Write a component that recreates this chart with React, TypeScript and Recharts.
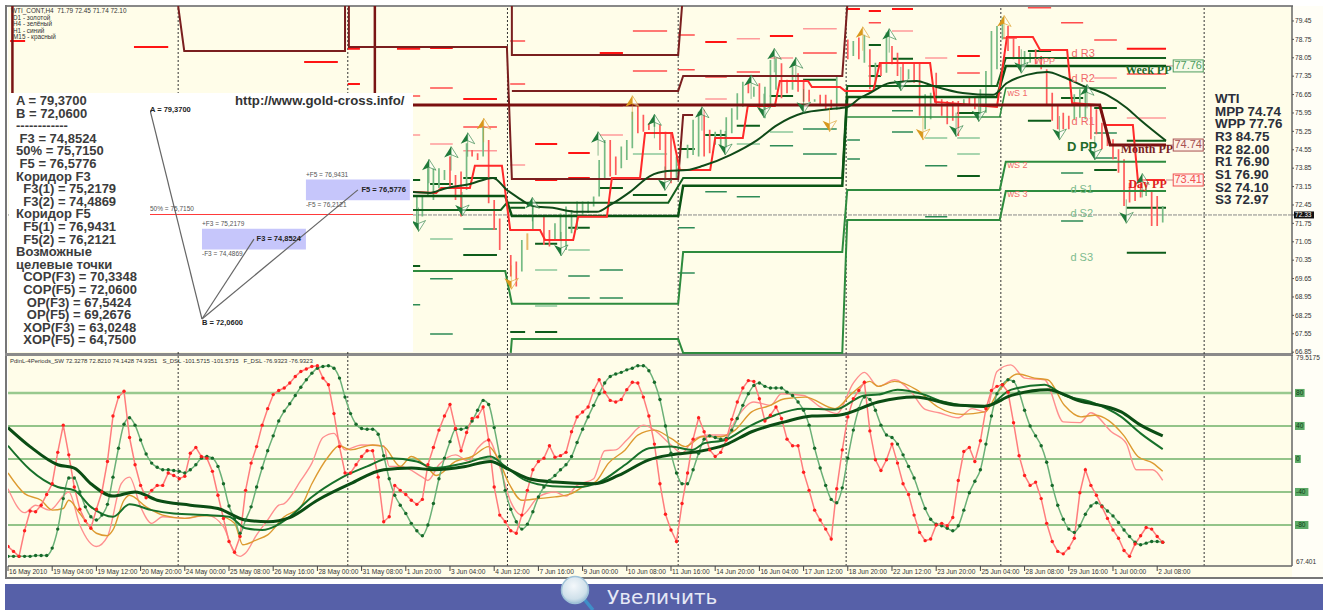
import {
  ComposedChart,
  Line,
  ReferenceArea,
  ReferenceLine,
  Scatter,
  XAxis,
  YAxis,
} from "recharts";

// ---- shared x positions: bar number, H4 bars, same scale in both panels
const barDomain: [number, number] = [0, 232.4];
const daySeparators = [30.8, 61.5, 90.4, 121.3, 151.7, 179.7, 216.5];

// ---- price panel
const priceTicks = [
  79.45, 78.75, 78.05, 77.35, 76.65, 75.95, 75.25, 74.55, 73.85, 73.15, 72.45, 72.07, 71.75,
  71.05, 70.35, 69.65, 68.95, 68.25, 67.55, 66.85,
];
// the black tag sits here on the scale, though it reads 72.33
const lastPriceLevel = 72.07;
const lastPriceText = "72.33";

// bar, high, low
const greenBars = [
  [74, 72.83, 71.63], [75, 72.77, 72.01], [76, 73.91, 72.77], [77, 73.85, 72.64], [78, 73.85, 73.09],
  [79, 73.78, 73.4], [83, 74.8, 73.02], [86, 75.43, 74.29], [93, 71.12, 69.92], [95, 72.45, 71.5],
  [99, 71.75, 71.12], [100, 72.13, 71.12], [101, 72.39, 70.74], [102, 72.26, 71.37], [103, 72.58, 71.5],
  [104, 72.58, 72.01], [105, 72.58, 72.14], [106, 72.77, 72.39], [107, 74.16, 72.77], [108, 74.92, 73.47],
  [111, 74.67, 73.85], [112, 74.92, 74.16], [113, 76.0, 74.61], [117, 75.88, 75.43], [121, 74.29, 73.4],
  [123, 74.74, 74.23], [124, 75.69, 74.35], [125, 76.0, 74.29], [128, 75.24, 74.74], [129, 75.31, 74.67],
  [130, 75.79, 74.61], [131, 76.13, 75.18], [132, 76.7, 75.69], [133, 77.14, 76.19], [135, 76.95, 76.57],
  [137, 76.95, 75.75], [138, 77.97, 76.19], [139, 78.03, 76.83], [142, 77.71, 76.83], [146, 76.47, 76.38],
  [150, 77.33, 76.07], [153, 78.69, 78.12], [155, 78.94, 77.86], [157, 77.86, 76.85], [159, 79.01, 77.48],
  [163, 77.61, 77.23], [166, 76.66, 75.33], [167, 76.72, 75.71], [173, 76.47, 76.22], [176, 76.85, 75.84],
  [177, 77.55, 75.96], [178, 79.07, 76.98], [179, 79.26, 77.61], [180, 79.58, 78.75], [184, 78.31, 77.74],
  [185, 78.24, 77.86], [193, 76.66, 75.71], [194, 76.85, 75.77], [195, 76.85, 75.71], [206, 73.24, 72.79],
  [209, 72.41, 71.78],
];
const redBars = [
  [80, 74.29, 73.15], [81, 73.59, 72.64], [82, 73.72, 72.01], [84, 74.54, 74.29], [85, 74.42, 74.16],
  [87, 74.92, 72.52], [88, 72.64, 71.5], [89, 71.94, 70.74], [91, 70.55, 69.73], [92, 70.3, 69.35],
  [97, 72.01, 70.93], [98, 71.5, 70.87], [109, 74.92, 73.53], [110, 74.29, 73.59], [114, 76.26, 75.18],
  [115, 75.88, 75.24], [116, 75.56, 75.3], [118, 75.5, 74.54], [119, 75.24, 73.4], [120, 75.18, 73.28],
  [126, 76.07, 74.29], [127, 75.31, 74.42], [134, 77.08, 76.7], [136, 77.08, 76.07], [140, 77.84, 76.51],
  [141, 77.21, 76.7], [143, 77.46, 76.76], [144, 77.21, 76.38], [145, 76.83, 76.38], [147, 76.64, 76.26],
  [148, 76.64, 76.07], [149, 76.45, 76.07], [152, 78.75, 77.99], [154, 78.82, 77.99], [156, 78.37, 76.85],
  [158, 77.86, 77.36], [160, 78.5, 77.8], [161, 78.24, 77.36], [162, 77.86, 77.1], [164, 77.86, 77.1],
  [165, 77.86, 75.84], [168, 77.48, 76.22], [169, 76.47, 75.84], [170, 76.41, 75.52], [171, 76.41, 75.65],
  [172, 76.41, 75.07], [174, 76.6, 76.22], [175, 76.6, 76.09], [181, 79.26, 78.31], [182, 78.82, 77.99],
  [183, 78.5, 77.61], [186, 78.37, 77.8], [187, 78.12, 77.61], [188, 77.61, 76.22], [189, 76.72, 75.65],
  [190, 76.22, 75.33], [191, 75.96, 75.33], [192, 75.84, 75.33], [196, 76.22, 74.95], [197, 76.09, 75.14],
  [198, 75.58, 74.57], [199, 75.2, 74.69], [200, 74.95, 74.19], [201, 74.57, 73.68], [202, 74.19, 72.41],
  [203, 73.3, 72.54], [204, 73.3, 72.6], [205, 73.24, 72.73], [207, 72.98, 71.65], [208, 72.79, 71.65],
];
const amberBars = [[94, 71.37, 70.74]];

// the spans the pivot dashes run over
const sessions = [
  [0.4, 3.1], [22.8, 29], [53.6, 59.7], [61.5, 63.7], [70.4, 74.6], [73.3, 74.6], [76.4, 80.5],
  [82.4, 88.5], [90.9, 93.6], [95.4, 99.4], [101.4, 105.3], [107.1, 111.3], [113.1, 119.3],
  [121.3, 124.3], [126.2, 130.1], [131.9, 136.1], [137.9, 142.1], [143.9, 150], [151.9, 154.2],
  [155.8, 158], [160, 163.8], [166, 170], [171.8, 175.9], [180, 182.6], [184.6, 188.8],
  [190.6, 194.6], [196.6, 200.7], [202.5, 209.6],
];
// session, price
const redStrongLevels = [
  [1, 78.46], [2, 77.89], [3, 78.39], [3, 77.05], [4, 78.39], [0, 78.69], [6, 78.42], [11, 78.23],
  [14, 78.65], [16, 78.88], [7, 76.48], [9, 74.77], [10, 74.43], [9, 73.4], [10, 73.48], [22, 78.12],
  [27, 78.39], [18, 79.91], [19, 79.83], [20, 79.91],
];
const redMidLevels = [
  [12, 79.07], [12, 77.55], [14, 77.32], [15, 77.51], [17, 78.23], [6, 76.9], [5, 76.6], [7, 75.42],
  [8, 78.69], [8, 77.05], [13, 78.92], [13, 77.59], [19, 79.38], [22, 77.47], [23, 78.8], [24, 79.95],
  [25, 79.38], [26, 78.73], [27, 77.43],
];
const redPaleLevels = [
  [15, 78.77], [17, 79.15], [6, 74.77], [7, 74.51], [11, 75.11], [14, 76.48], [11, 76.22], [16, 78.04],
  [8, 73.97], [5, 75.11], [20, 79.07], [21, 78.04], [26, 77.28], [27, 75.76],
];
const greenDarkLevels = [
  [6, 73.25], [7, 73.48], [7, 70.55], [9, 70.97], [10, 71.58], [11, 73.1], [13, 74.58], [14, 75.11],
  [15, 75.46], [16, 76.6], [17, 77.21], [8, 72.34], [5, 73.4], [5, 70.13], [12, 72.83], [19, 78.54],
  [19, 77.74], [19, 77.36], [20, 78.01], [22, 75.95], [22, 73.55], [24, 78.31], [24, 75.65], [25, 76.52],
  [26, 76.14], [26, 73.78], [27, 74.89], [27, 72.34], [27, 70.63], [9, 67.62], [8, 67.62],
];
const greenMidLevels = [
  [7, 71.54], [6, 69.64], [6, 67.54], [5, 68.65], [10, 69.75], [10, 68.91], [11, 69.98], [11, 68.91],
  [14, 72.95], [15, 72.76], [13, 71.58], [13, 69.86], [17, 74.39], [17, 75.34], [16, 74.7], [18, 74.92],
  [18, 74.2], [20, 76.03], [20, 75.23], [21, 73.94], [21, 72.0], [25, 73.67], [25, 71.84], [26, 75.19],
  [26, 74.24],
];
const greenPaleLevels = [
  [6, 71.16], [9, 68.61], [9, 69.98], [15, 74.77], [16, 75.23], [12, 74.39], [10, 70.74], [21, 75.0],
  [22, 75.0], [22, 74.39],
];

// step lines, bar + price
const weekRedA = [[30.8, 80.02], [31.9, 78.31], [61, 78.31], [61, 80.02]];
const weekRedB = [[61.7, 80.02], [61.7, 78.46], [90.3, 78.46], [91.2, 73.44], [121.3, 73.44], [122.2, 75.87], [124, 75.87]];
const weekRedC = [[91.2, 80.02], [91.2, 78.16], [121.3, 78.16], [122, 80.02]];
const weekRedD = [[91.2, 76.79], [121.3, 76.79], [122.2, 77.36], [151, 77.36], [151.9, 80.02]];
const edgeRedA = [[0.8, 80.02], [0.8, 76.71]];
const edgeRedB = [[66.4, 80.02], [66.4, 76.71]];
const monthPivot = [[73.3, 76.25], [197.6, 76.25], [199.5, 74.73], [209.6, 74.73]];
const dayPivot = [
  [72.8, 72.95], [77.5, 72.91], [78.4, 73.1], [83.6, 73.1], [84.5, 73.94], [89.4, 73.94], [90.9, 71.5],
  [96.3, 71.5], [97.2, 71.12], [102.3, 71.12], [103.2, 72.0], [108.4, 72.0], [109.3, 73.48], [114.4, 73.48],
  [115.3, 75.19], [120.2, 75.19], [121.6, 73.78], [127.1, 73.78], [128, 75.0], [133, 75.0], [133.9, 76.22],
  [138.8, 76.22], [139.7, 77.17], [144.8, 77.17], [145.5, 76.94], [150.6, 76.94], [151.5, 76.79], [156.6, 76.79],
  [157.8, 77.85], [166.9, 77.85], [167.8, 76.37], [179, 76.18], [180.8, 78.84], [185.5, 78.84], [186.8, 78.35],
  [191.7, 78.35], [192.6, 76.33], [197.6, 76.25], [198.5, 75.49], [203.6, 75.49], [204.5, 73.4], [209.4, 73.4],
];
const priceAverage = [
  [72.8, 72.95], [76.4, 72.91], [78.8, 73.06], [83.6, 73.25], [87.8, 73.48], [90.3, 73.02], [92.1, 72.76],
  [95, 72.41], [98.6, 72.34], [103, 72.19], [106.6, 72.19], [109, 72.45], [112.6, 72.95], [116.2, 73.55],
  [119.3, 73.74], [122.9, 73.78], [125.8, 73.94], [130.7, 74.35], [135.6, 74.92], [139.2, 75.49], [143.9, 75.95],
  [148.8, 76.1], [151.9, 76.18], [154.2, 76.52], [156, 76.71], [159.6, 77.09], [164.5, 77.17], [167.4, 76.98],
  [172.8, 76.71], [178.3, 76.64], [180.8, 77.09], [184.4, 77.4], [188.1, 77.51], [191, 77.32], [194.6, 76.98],
  [198.9, 76.64], [202.5, 76.14], [204.9, 75.69], [209.6, 74.89],
];
const greenStepThick = [
  [72.8, 72.79], [90, 72.79], [91.2, 72.03], [121.3, 72.03], [122.2, 73.18], [151, 73.18], [151.9, 76.56],
  [179, 76.56], [180.6, 77.74], [209.6, 77.74],
];
const greenStepDark = [
  [72.8, 72.26], [89.2, 72.26], [90.3, 72.53], [119.5, 72.53], [122.2, 73.48], [151, 73.48], [151.9, 76.98],
  [179, 76.98], [180.6, 78.04], [209.6, 78.04],
];
const greenStepMidA = [
  [72.8, 69.94], [90, 69.94], [91.2, 68.69], [121.3, 68.69], [122.2, 70.66], [151, 70.66], [151.9, 73.02],
  [179.5, 73.02], [180.6, 74.09], [209.6, 74.09],
];
const greenStepMidB = [
  [91, 66.82], [91.2, 67.35], [121.3, 67.35], [122.2, 66.82], [151, 66.82], [151.9, 71.88], [179.5, 71.88],
  [180.6, 72.98], [209.6, 72.98],
];
const greenStepMidC = [[151.9, 75.8], [179.5, 75.8], [180.6, 76.9], [209.6, 76.9]];

// fractal arrows: bar, tip price
const upGreenArrows = [
  [76.2, 74.19], [80.2, 74.67], [83.2, 75.2], [94.9, 72.74], [106.8, 75.24], [117, 75.9], [125.6, 76.19],
  [134.5, 77.4], [138.7, 78.41], [142.6, 78.07], [159.5, 79.16], [195.3, 77.04], [205.3, 73.65],
];
const upGoldArrows = [[86.1, 75.75], [113, 76.61], [154.7, 79.23], [180.3, 79.66]];
const downGreenArrows = [
  [74.3, 71.44], [82.2, 72.03], [100.1, 70.51], [118.9, 73.0], [136.8, 75.77], [129.8, 74.35], [144, 75.94],
  [171.6, 75.05], [175.7, 75.62], [161.6, 76.79], [183.4, 77.46], [190.3, 74.92], [196.7, 74.16], [202.4, 71.75],
];
const downGoldArrows = [[91.1, 69.24], [148.7, 75.24], [165.6, 74.92]];

// chart captions: bar, price, text
const dayRedNotes = [[192.5, 78.2, "d R3"], [192.5, 77.25, "d R2"], [192.5, 75.6, "d R1"]];
const weekRedNotes = [[180.9, 76.68, "wS 1"], [180.9, 73.93, "wS 2"], [180.9, 72.83, "wS 3"], [185.8, 77.89, "WPP"]];
const greenPivotNotes = [[192.3, 73.02, "d S1"], [192.3, 72.11, "d S2"], [192.3, 70.44, "d S3"]];
const weekNote = [[202.2, 77.55, "Week PP"]];
const monthNote = [[201.4, 74.52, "Month PP"]];
const dayNote = [[202.8, 73.2, "Day PP"]];
const dayPivotNote = [[194.4, 74.65, "D PP"]];
const tagLinks = [[209.6, 211, 77.74], [209.6, 211, 74.73], [209.6, 211, 73.4]];
const weekTag = [[210.9, 77.74, "77.76"]];
const monthTag = [[210.9, 74.73, "74.74"]];
const dayTag = [[210.9, 73.4, "73.41"]];

// ---- oscillator panel, one value per bar
const fastOsc = [
  -106, -112, -118, -87, -63, -64, -56, -43, -30, 8, 41, 5, -34, -61, -75, -84, -61, -40, -3, 52, 75, 82, 26, -7,
  -32, -47, -38, -32, -32, -17, -20, -24, -21, 7, 14, 3, 1, -15, -44, -72, -100, -113, -94, -38, -5, 15, 41, 61,
  78, 83, 86, 92, 100, 106, 109, 112, 113, 98, 90, 55, 15, -17, -17, -7, 3, 10, 10, -22, -76, -70, -32, -38,
  -43, -50, -55, -49, -7, 14,
  35, 52, 66, 37, 10, 32, 49, 51, 63, 23, -34, -68, -76, -87, -90, -68, -38, -13, -3, 1, 16, 2, 4, 8, 33, 51, 57,
  63, 83, 96, 81, 71, 69, 72, 84, 93, 92, 75, 52, 18, -30, -67, -86, -100, -54, -17, 24, 50, 33, 11, 3, 8, 23, 48,
  69, 86, 95, 94, 73, 46, 53, 63, 49, 24, 16, 16, -16, -38, -62, -74, -85, -97, -36, 11, 51, 73, 83, 93, 34, -1,
  -14, -1, 18, -5, -30, -43, -68, -89, -99, -97, -80, -78, -81, -71, -26, 9, 14, -3, 22, 61, 83, 88, 90, 81,
  44, 4, -20, -32, -28, -48, -78, -100, -112, -115, -108, -96, -41, -13, -32, -44, -58, -72, -86, -96, -111, -118,
  -103, -93, -83, -85, -94, -101,
];
const slowOsc = [
  -118, -118, -118, -118, -118, -117, -117, -117, -108, -85, -48, -23, -23, -40, -58, -70, -74, -68, -55, -22, 13,
  42, 50, 41, 23, 6, -5, -10, -13, -13, -14, -15, -17, -13, -7, 1, 3, 1, -9, -30, -57, -72, -90, -74, -58, -34,
  -11, 10, 28, 46, 58, 67, 77, 87, 96, 104, 110, 112, 113, 110, 98, 75, 55, 42, 37, 36, 36, 30, 4, -24, -44,
  -56, -66, -78, -87, -93, -80, -54,
  -24, 1, 21, 36, 36, 38, 46, 59, 71, 66, 38, 3, -38, -61, -76, -85, -79, -64, -46, -34, -26, -20, -13, -7, 3, 20,
  36, 51, 65, 79, 92, 100, 103, 105, 108, 110, 113, 113, 107, 93, 72, 40, 7, -17, -30, -30, -13, 7, 24, 28, 26, 24,
  25, 35, 49, 65, 79, 89, 92, 88, 86, 86, 86, 81, 77, 69, 59, 41, 13, -11, -32, -49, -53, -35, 1, 35, 61, 75, 72, 59,
  41, 29, 26, 18, 5, -9, -23, -42, -60, -73, -79, -81, -84, -87, -81, -62, -41, -27, -13, 18, 52, 79, 90, 96,
  94, 81, 59, 40, 28, 16, -4, -32, -56, -73, -85, -89, -81, -67, -57, -53, -57, -63, -69, -77, -86, -94, -101, -104,
  -102, -100, -100, -101,
];
const paleCurve = [
  [0, -36], [3, -65], [5, -56], [7.5, -62], [11, -40], [13, -80], [16, -106], [18, -94], [20.5, -30], [22, -22],
  [24, -58], [26, -78], [28, -70], [32, -72], [36, -68], [39, -82], [41, -114], [42, -118], [43, -114], [45, -92],
  [47, -74], [49, -56], [50, -54], [53, -26], [55, -5], [57, 26], [59, 31], [61, 11], [64, 17], [68, 16], [69, -9],
  [71, -9], [75, -22], [76, -26], [78, -7], [81, 5], [83.4, -3], [85, 13], [87, 23], [89, -9], [91, -52], [93, -68],
  [96, -46], [99, -40], [101, -45], [103, -32], [106, -24], [108, 10], [110, 11], [112, 23], [115, 41], [117, 35],
  [120, 17], [122, 7], [124, 23], [127, 29], [130, 29], [132, 51], [135, 69], [138, 65], [140, 79], [144, 77],
  [147, 63], [150, 55], [153, 92], [155, 105], [157.5, 88], [160.5, 96], [163.5, 81], [166, 60], [168.5, 56],
  [172, 50], [174.5, 61], [177, 57], [179, 106], [181.5, 114], [184, 98], [187.6, 96], [191, 45], [194, 44],
  [196, 56], [199.7, 33], [202.4, 19], [204.2, -13], [207.2, -13], [209, -26],
];
const amberCurve = [
  [0, -17], [3, -42], [6, -50], [8, -62], [10, -60], [11, -50], [13, -66], [16, -90], [18, -93], [19, -86], [21, -50],
  [22, -44], [25, -58], [28, -68], [32, -72], [35, -69], [38, -69], [41, -78], [42.5, -104], [45, -98], [47, -92],
  [50, -70], [53, -58], [55, -30], [58, 3], [60, 16], [62, 11], [66, 17], [68, 15], [71, -9], [73, 3], [76, -11],
  [77.5, -20], [81, -3], [84, 3], [87, 15], [88.5, 3], [90.7, -30], [93, -50], [96, -48], [99, -46], [102, -42],
  [104.5, -32], [106.3, -28], [108.7, -5], [111.7, 11], [114, 29], [117, 35], [120, 25], [122.6, 15], [125.6, 27],
  [129, 27], [131.6, 35], [134.6, 57], [137.6, 64], [140.6, 73], [144.3, 75], [149.7, 61], [152.7, 79], [156, 94],
  [157.5, 88], [160.5, 94], [164.4, 84], [168.3, 63], [172.6, 54], [176.8, 57], [179.2, 81], [182.8, 103], [185.8, 98],
  [188.2, 96], [191.2, 65], [194.2, 51], [196.7, 53], [202, 28], [204.5, 3], [207.2, -5], [209, -15],
];
const midGreenCurve = [
  [0, 16], [4, -13], [9, -34], [12, -38], [15, -58], [19, -70], [22, -55], [26, -62], [30, -66], [36, -68], [40, -70],
  [43, -84], [46, -86], [51, -70], [55, -46], [60, -24], [65, -9], [69, 1], [74, -3], [77, -11], [82.8, -5], [87.3, 3],
  [90, -9], [93.7, -26], [98.5, -33], [103.3, -34], [107, -28], [111.7, -7], [116, 13], [120, 15], [123.8, 11],
  [126, 19], [129.8, 23], [134, 39], [138.8, 53], [143.7, 61], [149.7, 60], [155, 77], [157.5, 78], [161, 84],
  [165.3, 79], [169.5, 69], [176.8, 63], [181.6, 84], [187.6, 90], [191.2, 77], [196, 69], [201.5, 51], [205, 31],
  [209, 12],
];
const darkGreenCurve = [
  [0, 38], [4, 15], [9, -7], [12, -11], [15, -30], [19, -45], [23, -40], [27, -50], [33, -56], [38, -60], [43, -74],
  [47, -76], [51, -71], [56, -50], [62, -30], [68, -13], [73, -11], [77, -13], [82.8, -9], [87.3, -3], [90.7, -13],
  [94.3, -24], [99, -28], [106.3, -30], [110.5, -20], [116, -1], [120, 5], [125, 9], [129.8, 17], [134.6, 33],
  [140.6, 45], [145.5, 52], [150.3, 53], [157.5, 69], [164, 75], [172, 65], [176.8, 64], [181.6, 77], [188.2, 84],
  [193.6, 71], [201.5, 57], [205, 41], [209, 28],
];
const oscLevels = [80, 40, 0, -40, -80];
const oscTicks = [122.4, 80, 40, 0, -40, -80, -124.8];
const oscTickLabels = ["79.5175", "80", "40", "0", "-40", "-80", "67.401"];
const timeTicks = [
  0, 8, 16, 24, 32, 40, 48, 56, 64, 72, 80, 88, 96, 104, 112, 120, 128, 136, 144, 152, 160, 168, 176, 184, 192, 200,
  208,
];
const timeLabels = [
  "16 May 2010", "19 May 04:00", "19 May 12:00", "20 May 20:00", "24 May 00:00", "25 May 08:00", "26 May 16:00",
  "28 May 00:00", "31 May 08:00", "1 Jun 20:00", "3 Jun 04:00", "4 Jun 12:00", "7 Jun 16:00", "9 Jun 00:00",
  "10 Jun 08:00", "11 Jun 16:00", "14 Jun 20:00", "16 Jun 04:00", "17 Jun 12:00", "18 Jun 20:00", "22 Jun 12:00",
  "23 Jun 20:00", "25 Jun 04:00", "28 Jun 08:00", "29 Jun 16:00", "1 Jul 00:00", "2 Jul 08:00",
];

// ---- fibo sketch in the white box
const pointA = 79.37;
const pointB = 72.06;
const levelF3 = 74.8524;
const level50 = 75.715;
const levelF5 = 76.5776;
const corridorF3 = [75.2179, 74.4869];
const corridorF5 = [76.9431, 76.2121];
const fiboLegA = [[-1, pointA], [0, pointB]];
const fiboLegF3 = [[0, pointB], [1, levelF3]];
const fiboLegF5 = [[0, pointB], [3, levelF5]];
const fiboSmall = [
  [-1, 75.9, "50% = 75,7150"], [0, 75.39, "+F3 = 75,2179"], [0, 74.32, "-F3 = 74,4869"], [2, 77.1, "+F5 = 76,9431"],
  [2, 76.05, "-F5 = 76,2121"],
];
const fiboBold = [
  [-1, 79.37, "A = 79,3700"], [0, 71.92, "B = 72,0600"], [1.05, 74.85, "F3 = 74,8524"], [3.07, 76.58, "F5 = 76,5776"],
];

const fiboText = [
  "A = 79,3700", "B = 72,0600", "------------", " F3 = 74,8524", "50% = 75,7150", " F5 = 76,5776", "Коридор F3",
  "  F3(1) = 75,2179", "  F3(2) = 74,4869", "Коридор F5", "  F5(1) = 76,9431", "  F5(2) = 76,2121", "Возможные",
  "целевые точки", "  COP(F3) = 70,3348", "  COP(F5) = 72,0600", "   OP(F3) = 67,5424", "   OP(F5) = 69,2676",
  "  XOP(F3) = 63,0248", "  XOP(F5) = 64,7500",
];
const pivotText = [
  "WTI", "MPP 74.74", "WPP 77.76", "R3 84.75", "R2 82.00", "R1 76.90", "S1 76.90", "S2 74.10", "S3 72.97",
];
const chartLegend = ["WTI_CONT,H4  71.79 72.45 71.74 72.10", "D1 - золотой", "H4 - зелёный", "H1 - синий", "M15 - красный"];
const oscCaption =
  "PdinL-4Periods_SW 72.3278 72.8210 74.1428 74.9351   S_DSL -101.5715 -101.5715   F_DSL -76.9323 -76.9323";

const CREAM = "#fffde9";
const GOLD = "#d9981c";
const UI_FONT = "'Liberation Sans', Arial, sans-serif";

const points = (rows: number[][]) => rows.map(([x, y]) => ({ x, y }));
const stems = (rows: number[][]) =>
  rows.flatMap(([x, hi, lo]) => [{ x, y: hi }, { x, y: lo }, { x, y: null }]);
const dashes = (rows: number[][]) =>
  rows.flatMap(([s, y]) => {
    const [a, b] = sessions[s];
    return [{ x: a, y }, { x: b, y }, { x: b, y: null }];
  });
const spans = (rows: number[][]) =>
  rows.flatMap(([a, b, y]) => [{ x: a, y }, { x: b, y }, { x: b, y: null }]);
const notes = (rows: (number | string)[][]) => rows.map(([x, y, text]) => ({ x, y, text }));

function Path({ data, color, width = 1.5, curve = "linear", opacity = 1 }: any) {
  return (
    <Line
      data={data}
      dataKey="y"
      type={curve}
      stroke={color}
      strokeWidth={width}
      strokeOpacity={opacity}
      dot={false}
      activeDot={false}
      isAnimationActive={false}
      connectNulls={false}
    />
  );
}

const textShape =
  (style: any, anchor = "start") =>
  ({ cx, cy, payload }: any) => (
    <text x={cx} y={cy} dominantBaseline="middle" textAnchor={anchor} {...style}>
      {payload.text}
    </text>
  );

const tagShape =
  (stroke: string, fill: string) =>
  ({ cx, cy, payload }: any) => (
    <g>
      <rect x={cx} y={cy - 6} width={30} height={12} fill={fill} stroke={stroke} />
      <text x={cx + 15} y={cy + 0.5} dominantBaseline="middle" textAnchor="middle" fontSize={11} fontFamily={UI_FONT} fill={stroke}>
        {payload.text}
      </text>
    </g>
  );

const arrowShape =
  (color: string, up: boolean) =>
  ({ cx, cy }: any) => {
    const s = up ? 1 : -1;
    return (
      <g>
        <line x1={cx} y1={cy + s * 8} x2={cx} y2={cy + s * 24} stroke={color} strokeWidth={1} opacity={0.5} />
        <path d={`M${cx} ${cy} L${cx - 7} ${cy + s * 11} L${cx} ${cy + s * 8} Z`} fill={color} />
        <path d={`M${cx} ${cy} L${cx + 7} ${cy + s * 11} L${cx} ${cy + s * 8} Z`} fill="#fff" fillOpacity={0.5} stroke={color} strokeOpacity={0.6} strokeWidth={1} />
      </g>
    );
  };

function PriceTick({ x, y, payload }: any) {
  const isLast = payload.value === lastPriceLevel;
  return (
    <g>
      <line x1={x - 8} y1={y} x2={x - 6} y2={y} stroke="#555" />
      {isLast ? <rect x={x - 6} y={y - 3.5} width={20} height={7} fill="#111" /> : null}
      <text x={x - 5} y={y + 0.5} dominantBaseline="middle" fontSize={6.6} fontFamily={UI_FONT} fill={isLast ? "#fff" : "#333"}>
        {isLast ? lastPriceText : payload.value.toFixed(2)}
      </text>
    </g>
  );
}

function OscTick({ x, y, payload, index }: any) {
  const label = oscTickLabels[index];
  const isLevel = oscLevels.includes(payload.value);
  return (
    <g>
      {isLevel ? <rect x={x - 5} y={y - 4} width={label.length * 3.8 + 2} height={8} fill="#3f9a4c" opacity={0.85} /> : null}
      <text x={x - 4} y={y + 0.5} dominantBaseline="middle" fontSize={6.6} fontFamily={UI_FONT} fill={isLevel ? "#0f3d16" : "#333"}>
        {label}
      </text>
    </g>
  );
}

function TimeTick({ x, y, index }: any) {
  return (
    <g>
      <line x1={x} y1={y - 8} x2={x} y2={y - 3} stroke="#444" />
      <text x={x + 1} y={y - 2} dominantBaseline="middle" fontSize={6.6} fontFamily={UI_FONT} fill="#333">
        {timeLabels[index]}
      </text>
    </g>
  );
}

function PricePanel() {
  return (
    <ComposedChart width={1323} height={360} margin={{ top: 6, right: 0, bottom: 6, left: 8 }}>
      <XAxis hide type="number" dataKey="x" domain={barDomain} allowDataOverflow />
      <YAxis
        orientation="right"
        dataKey="y"
        width={31}
        type="number"
        domain={[66.78, 80.02]}
        allowDataOverflow
        ticks={priceTicks}
        interval={0}
        tick={<PriceTick />}
        tickLine={false}
        axisLine={{ stroke: "#666", strokeWidth: 1.5 }}
      />
      {daySeparators.map((x) => (
        <ReferenceLine key={x} x={x} stroke="#333" strokeDasharray="2 2" />
      ))}
      <ReferenceLine y={lastPriceLevel} stroke="#888" strokeWidth={1} strokeDasharray="4 1" />

      {Path({ data: dashes(redPaleLevels), color: "#ff9a9a", width: 1.5 })}
      {Path({ data: dashes(redMidLevels), color: "#ff4d4d", width: 1.5 })}
      {Path({ data: dashes(redStrongLevels), color: "#ff1414", width: 2 })}
      {Path({ data: dashes(greenPaleLevels), color: "#8cc79a", width: 1.5 })}
      {Path({ data: dashes(greenMidLevels), color: "#2e8b57", width: 1.5 })}
      {Path({ data: dashes(greenDarkLevels), color: "#0d5c1a", width: 2 })}

      {Path({ data: stems(greenBars), color: "#76bb84", width: 1.7 })}
      {Path({ data: stems(redBars), color: "#ff5c5c", width: 1.7 })}
      {Path({ data: stems(amberBars), color: "#e8b86a", width: 2 })}

      {Path({ data: points(edgeRedA), color: "#7a1414", width: 2.5 })}
      {Path({ data: points(edgeRedB), color: "#7a1414", width: 2.5 })}
      {Path({ data: points(weekRedA), color: "#7a1f1f", width: 2 })}
      {Path({ data: points(weekRedB), color: "#7a1f1f", width: 2 })}
      {Path({ data: points(weekRedC), color: "#7a1f1f", width: 2 })}
      {Path({ data: points(weekRedD), color: "#7a1f1f", width: 2 })}
      {Path({ data: points(greenStepMidA), color: "#2e8b3e", width: 2 })}
      {Path({ data: points(greenStepMidB), color: "#2e8b3e", width: 2 })}
      {Path({ data: points(greenStepMidC), color: "#2e8b3e", width: 1.5 })}
      {Path({ data: points(greenStepDark), color: "#14601f", width: 2 })}
      {Path({ data: points(greenStepThick), color: "#0a5414", width: 2.5 })}
      {Path({ data: points(dayPivot), color: "#ff2a2a", width: 2 })}
      {Path({ data: points(monthPivot), color: "#7a1010", width: 3 })}
      {Path({ data: points(priceAverage), color: "#0f4a18", width: 2, curve: "monotone" })}
      {Path({ data: spans(tagLinks), color: "#c98a8a", width: 1 })}

      <Scatter data={points(upGreenArrows)} isAnimationActive={false} shape={arrowShape("#1f7a3a", true)} />
      <Scatter data={points(downGreenArrows)} isAnimationActive={false} shape={arrowShape("#1f7a3a", false)} />
      <Scatter data={points(upGoldArrows)} isAnimationActive={false} shape={arrowShape(GOLD, true)} />
      <Scatter data={points(downGoldArrows)} isAnimationActive={false} shape={arrowShape(GOLD, false)} />

      <Scatter data={notes(dayRedNotes)} isAnimationActive={false} shape={textShape({ fontSize: 11, fontFamily: UI_FONT, fill: "#f06a6a" })} />
      <Scatter data={notes(weekRedNotes)} isAnimationActive={false} shape={textShape({ fontSize: 9, fontFamily: UI_FONT, fill: "#f06a6a" })} />
      <Scatter data={notes(greenPivotNotes)} isAnimationActive={false} shape={textShape({ fontSize: 11, fontFamily: UI_FONT, fill: "#7dbb8e" })} />
      <Scatter data={notes(dayPivotNote)} isAnimationActive={false} shape={textShape({ fontSize: 13, fontFamily: UI_FONT, fontWeight: 700, fill: "#1f6b2a" }, "middle")} />
      <Scatter data={notes(weekNote)} isAnimationActive={false} shape={textShape({ fontSize: 12, fontFamily: "'Liberation Serif'", fontWeight: 700, fill: "#1f6b2a" })} />
      <Scatter data={notes(monthNote)} isAnimationActive={false} shape={textShape({ fontSize: 12, fontFamily: "'Liberation Serif'", fontWeight: 700, fill: "#7a1f1f" })} />
      <Scatter data={notes(dayNote)} isAnimationActive={false} shape={textShape({ fontSize: 12, fontFamily: "'Liberation Serif'", fontWeight: 700, fill: "#e02020" })} />
      <Scatter data={notes(weekTag)} isAnimationActive={false} shape={tagShape("#4f9e5f", "#f6fbe8")} />
      <Scatter data={notes(monthTag)} isAnimationActive={false} shape={tagShape("#a85050", "#fdf2e6")} />
      <Scatter data={notes(dayTag)} isAnimationActive={false} shape={tagShape("#f25050", "#fff3ea")} />
    </ComposedChart>
  );
}

function OscillatorPanel() {
  return (
    <ComposedChart width={1323} height={225} margin={{ top: 0, right: 0, bottom: 0, left: 8 }}>
      <XAxis
        type="number"
        dataKey="x"
        domain={barDomain}
        allowDataOverflow
        ticks={timeTicks}
        interval={0}
        height={14}
        tick={<TimeTick />}
        tickLine={false}
        axisLine={{ stroke: "#666", strokeWidth: 1.5 }}
      />
      <YAxis
        orientation="right"
        dataKey="y"
        width={31}
        type="number"
        domain={[-129.7, 126]}
        allowDataOverflow
        ticks={oscTicks}
        interval={0}
        tick={<OscTick />}
        tickLine={false}
        axisLine={{ stroke: "#666", strokeWidth: 1.5 }}
      />
      {daySeparators.map((x) => (
        <ReferenceLine key={x} x={x} stroke="#333" strokeDasharray="2 2" />
      ))}
      {oscLevels.map((y) => (
        <ReferenceLine key={y} y={y} stroke={y === 80 ? "#98c98e" : "#6fb168"} strokeWidth={y === 80 ? 2.5 : 1.5} />
      ))}
      {Path({ data: points(paleCurve), color: "#ff9090", width: 1.4, curve: "monotone" })}
      {Path({ data: points(amberCurve), color: "#dd9a30", width: 1.4, curve: "monotone" })}
      <Line
        data={slowOsc.map((y, x) => ({ x, y }))}
        dataKey="y"
        type="monotone"
        stroke="#6bb077"
        strokeWidth={1.5}
        dot={{ r: 1.7, fill: "#17692a", stroke: "none" }}
        activeDot={false}
        isAnimationActive={false}
      />
      <Line
        data={fastOsc.map((y, x) => ({ x, y }))}
        dataKey="y"
        type="linear"
        stroke="#ff7d7d"
        strokeWidth={1.5}
        dot={{ r: 1.7, fill: "#ff1f1f", stroke: "none" }}
        activeDot={false}
        isAnimationActive={false}
      />
      {Path({ data: points(midGreenCurve), color: "#17702a", width: 2, curve: "monotone" })}
      {Path({ data: points(darkGreenCurve), color: "#0b4d14", width: 3, curve: "monotone" })}
    </ComposedChart>
  );
}

function FiboSketch() {
  const smallText = { fontSize: 6.5, fontFamily: UI_FONT, fill: "#555" };
  const boldText = { fontSize: 7.5, fontFamily: UI_FONT, fontWeight: 700, fill: "#222" };
  return (
    <ComposedChart width={273} height={233} margin={{ top: 0, right: 0, bottom: 0, left: 10 }}>
      <XAxis hide type="number" dataKey="x" domain={[-1, 4.06]} allowDataOverflow />
      <YAxis hide type="number" dataKey="y" domain={[71.57, 79.72]} allowDataOverflow />
      <ReferenceArea x1={0} x2={2} y1={corridorF3[0]} y2={corridorF3[1]} fill="#c6c6fb" fillOpacity={1} stroke="none" />
      <ReferenceArea x1={2} x2={4} y1={corridorF5[0]} y2={corridorF5[1]} fill="#c6c6fb" fillOpacity={1} stroke="none" />
      <ReferenceLine y={level50} stroke="#ff3a3a" strokeWidth={1.2} />
      {Path({ data: points(fiboLegA), color: "#666", width: 1.2 })}
      {Path({ data: points(fiboLegF3), color: "#666", width: 1.2 })}
      {Path({ data: points(fiboLegF5), color: "#666", width: 1.2 })}
      <Scatter data={notes(fiboSmall)} isAnimationActive={false} shape={textShape(smallText)} />
      <Scatter data={notes(fiboBold)} isAnimationActive={false} shape={textShape(boldText)} />
    </ComposedChart>
  );
}

export default function App() {
  const abs = (left: number, top: number, width: number, height: number): any => ({
    position: "absolute",
    left,
    top,
    width,
    height,
  });
  return (
    <div style={{ position: "absolute", left: 0, top: 0, width: 1323, height: 610, background: "#fff", overflow: "hidden" }}>
      {/* panel backgrounds sit behind the transparent charts */}
      <div style={{ ...abs(8, 6, 1284, 348), background: CREAM }} />
      <div style={{ ...abs(8, 355, 1284, 223), background: CREAM }} />
      <div style={{ ...abs(1292, 6, 31, 572), background: "#fffef6" }} />
      <div style={{ ...abs(5, 5, 1288, 2), background: "#888" }} />
      <div style={{ ...abs(5, 5, 2, 574), background: "#777" }} />
      <div style={{ ...abs(5, 353, 1288, 3), background: "#8a8a8a" }} />
      <div style={{ ...abs(5, 577, 1318, 2), background: "#777" }} />

      <div style={abs(0, 0, 1323, 360)}>
        <PricePanel />
      </div>
      <div style={abs(0, 355, 1323, 225)}>
        <OscillatorPanel />
      </div>

      <div style={{ ...abs(9, 3, 200, 40), paddingTop: 5, font: `6.4px/6.6px ${UI_FONT}`, color: "#333", whiteSpace: "pre" }}>
        {chartLegend.map((line, i) => (
          <div key={i} style={{ paddingLeft: i === 0 ? 2 : 4 }}>{line}</div>
        ))}
      </div>
      <div style={{ ...abs(10, 357, 600, 8), font: `6px/8px ${UI_FONT}`, color: "#333", whiteSpace: "pre" }}>{oscCaption}</div>

      {/* white fibo box pasted over the chart */}
      <div style={{ ...abs(9, 93, 404, 259), background: "#fff" }} />
      <div style={{ ...abs(16, 95, 150, 255), font: `700 13px/12.6px ${UI_FONT}`, color: "#3c3c3c", whiteSpace: "pre" }}>
        {fiboText.map((line, i) => (
          <div key={i}>{line}</div>
        ))}
      </div>
      <div style={{ ...abs(235, 94, 175, 14), font: `700 13.2px/14px ${UI_FONT}`, color: "#333", whiteSpace: "pre" }}>
        http://www.gold-cross.info/
      </div>
      <div style={abs(140, 100, 273, 233)}>
        <FiboSketch />
      </div>

      <div style={{ ...abs(1215, 93, 75, 115), font: `700 13.4px/12.65px ${UI_FONT}`, color: "#2b2f3a", whiteSpace: "pre" }}>
        {pivotText.map((line) => (
          <div key={line}>{line}</div>
        ))}
      </div>

      <div style={{ ...abs(5, 584, 1318, 26), background: "#5660a8" }} />
      <svg style={abs(555, 574, 45, 36)} viewBox="0 0 45 36">
        <defs>
          <radialGradient id="glass" cx="45%" cy="35%" r="70%">
            <stop offset="0%" stopColor="#f4f8fb" />
            <stop offset="70%" stopColor="#cfe0ea" />
            <stop offset="100%" stopColor="#8fb6cf" />
          </radialGradient>
        </defs>
        <line x1={29} y1={25} x2={38} y2={36} stroke="#3f8fc8" strokeWidth={3.5} />
        <circle cx={20} cy={16} r={13.5} fill="url(#glass)" stroke="#9fc2d8" strokeWidth={1.5} />
      </svg>
      <div style={{ ...abs(607, 584, 200, 26), font: "20px/27px 'DejaVu Sans'", color: "#e6e9f6", whiteSpace: "pre" }}>Увеличить</div>
    </div>
  );
}
